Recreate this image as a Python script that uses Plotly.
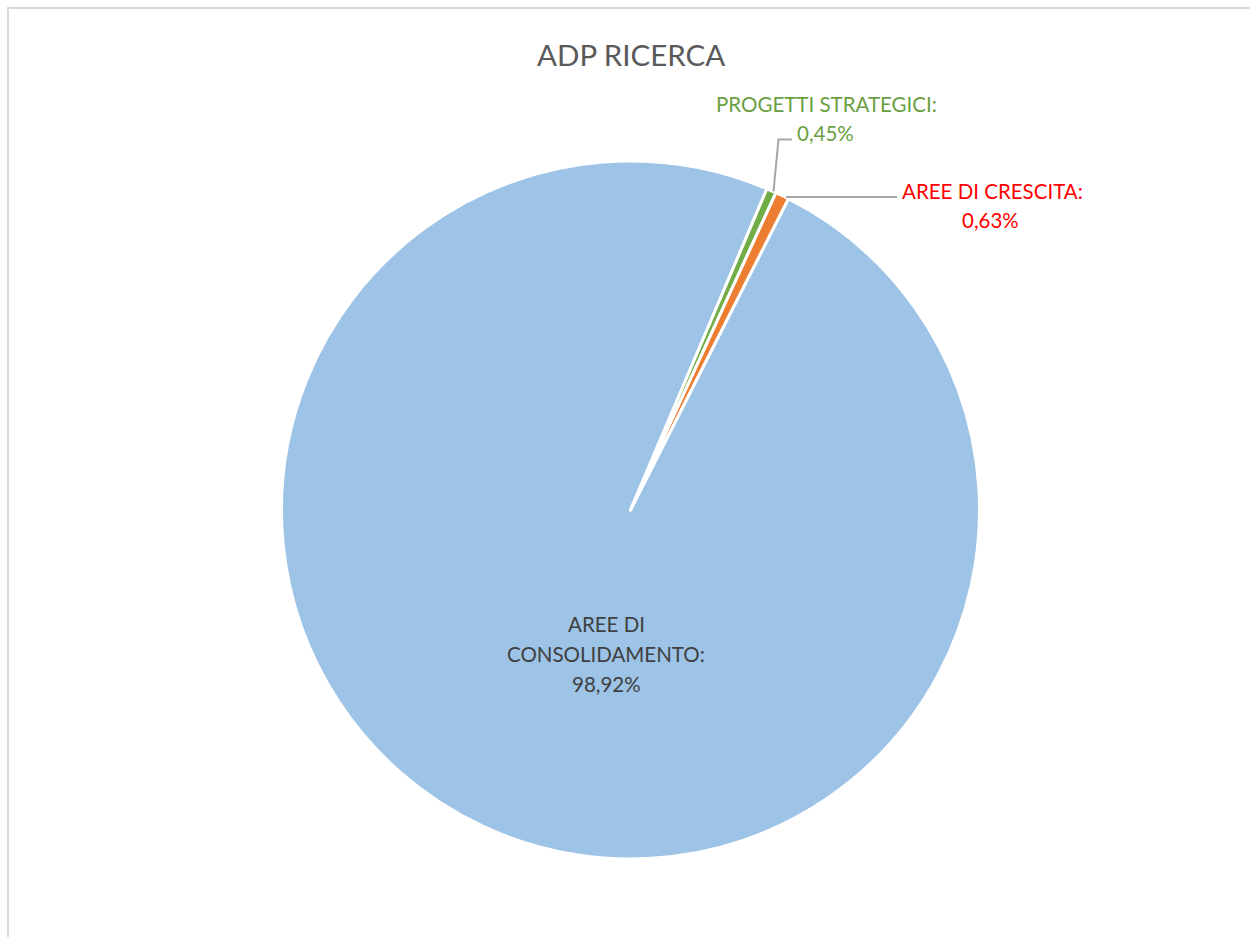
import plotly.graph_objects as go

W, H = 1250, 937

# Data
categories = ["AREE DI CONSOLIDAMENTO", "PROGETTI STRATEGICI", "AREE DI CRESCITA"]
values = [98.92, 0.45, 0.63]
slice_colors = ["#9DC3E6", "#70AD47", "#ED7D31"]
label_colors = ["#404040", "#6AA042", "#FF0000"]
title_text = "ADP RICERCA"

FONT = "Lato"


def px(x):
    return x / W


def py(y):
    return 1 - y / H


def pct(v):
    return f"{v:.2f}".replace(".", ",") + "%"


cx, cy, r = 630.5, 510, 349

fig = go.Figure(
    go.Pie(
        labels=categories,
        values=values,
        marker=dict(colors=slice_colors, line=dict(color="white", width=3)),
        sort=False,
        direction="clockwise",
        rotation=26.9,
        textinfo="none",
        hoverinfo="label+percent",
        showlegend=False,
        domain=dict(x=[px(cx - r), px(cx + r)], y=[py(cy + r), py(cy - r)]),
    )
)

annotations = []


def add_text(text, x, y, color, size):
    annotations.append(
        dict(
            text=text, x=px(x), y=py(y), xref="paper", yref="paper",
            xanchor="center", yanchor="middle", showarrow=False,
            font=dict(family=FONT, size=size, color=color),
        )
    )


LS = 20.5
# Title
add_text(title_text, 631, 54, "#595959", 29.5)

# Consolidamento label (inside)
add_text("AREE DI", 606, 624, label_colors[0], LS)
add_text("CONSOLIDAMENTO:", 606, 654, label_colors[0], LS)
add_text(pct(values[0]), 606, 684, label_colors[0], LS)

# Progetti strategici label
add_text("PROGETTI STRATEGICI:", 826, 104, label_colors[1], LS)
add_text(pct(values[1]), 825, 133, label_colors[1], LS)

# Aree di crescita label
add_text("AREE DI CRESCITA:", 992, 191, label_colors[2], LS)
add_text(pct(values[2]), 991, 220, label_colors[2], LS)

leader = "#A6A6A6"
shapes = [
    # chart border
    dict(type="rect", xref="paper", yref="paper", x0=px(8), x1=px(W + 10),
         y0=py(H + 10), y1=py(8), line=dict(color="#D9D9D9", width=2)),
    # leader lines
    dict(type="path", xref="paper", yref="paper",
         path=f"M {px(773.5)} {py(191.5)} L {px(778.5)} {py(139.5)} L {px(792)} {py(139.5)}",
         line=dict(color=leader, width=2)),
    dict(type="line", xref="paper", yref="paper", x0=px(786), y0=py(197), x1=px(897), y1=py(197),
         line=dict(color=leader, width=2)),
]

fig.update_layout(
    width=W, height=H,
    margin=dict(l=0, r=0, t=0, b=0),
    paper_bgcolor="white",
    plot_bgcolor="white",
    annotations=annotations,
    shapes=shapes,
)

fig.write_html("out.html")
